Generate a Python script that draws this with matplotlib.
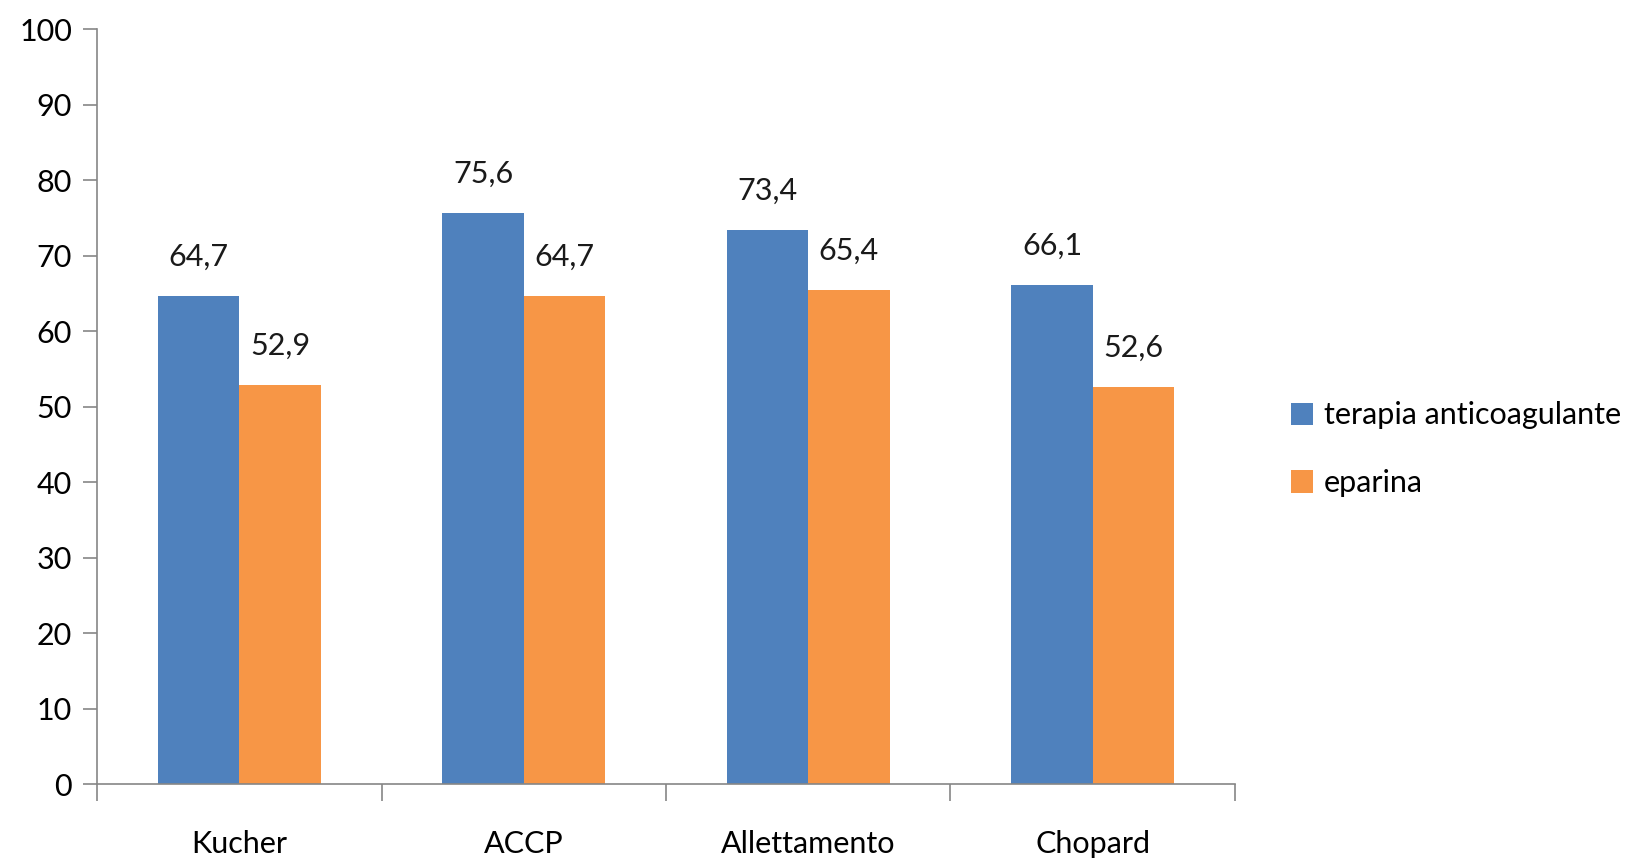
import numpy as np
import matplotlib
matplotlib.use("Agg")
import matplotlib.pyplot as plt

plt.rcParams['font.family'] = ['Lato', 'DejaVu Sans']

categorie = ['Kucher', 'ACCP', 'Allettamento', 'Chopard']
terapia = [64.7, 75.6, 73.4, 66.1]
eparina = [52.9, 64.7, 65.4, 52.6]
serie = ['terapia anticoagulante', 'eparina']

blu = '#4F81BD'
arancio = '#F79646'
grigio = '#868686'

fig = plt.figure(figsize=(16.34, 8.59), dpi=100)
ax = fig.add_axes([0.0594, 0.0873, 0.6964, 0.8789])

x = np.arange(len(categorie))
w = 1 / 3.5
b1 = ax.bar(x - w / 2, terapia, w, color=blu, label=serie[0])
b2 = ax.bar(x + w / 2, eparina, w, color=arancio, label=serie[1])

# etichette dei valori con la virgola decimale
for bars, vals in ((b1, terapia), (b2, eparina)):
    for r, v in zip(bars, vals):
        ax.annotate(f'{v:.1f}'.replace('.', ','),
                    (r.get_x() + r.get_width() / 2, v),
                    xytext=(0, 18), textcoords='offset points',
                    ha='center', va='bottom', fontsize=22, color='#1a1a1a')

ax.set_xlim(-0.5, len(categorie) - 0.5)
ax.set_ylim(0, 100)
ax.set_yticks(np.arange(0, 101, 10))
ax.set_xticks(np.arange(-0.5, len(categorie), 1))
ax.set_xticklabels([])
ax.set_xticks(x, minor=True)
ax.set_xticklabels(categorie, minor=True)
ax.tick_params(axis='x', which='minor', length=0, pad=33, labelsize=22)
ax.tick_params(axis='x', which='major', length=12, width=1.2, color=grigio)
ax.tick_params(axis='y', length=10, width=1.2, color=grigio, labelsize=22, pad=8)

for s in ('top', 'right'):
    ax.spines[s].set_visible(False)
for s in ('left', 'bottom'):
    ax.spines[s].set_color(grigio)
    ax.spines[s].set_linewidth(1.2)

fig.legend(handles=[b1, b2], labels=serie, loc='center left',
           bbox_to_anchor=(0.773, 0.477), frameon=False, fontsize=22,
           handlelength=0.75, handleheight=0.75, handletextpad=0.35,
           labelspacing=1.3)

fig.savefig('out.png', dpi=100)
